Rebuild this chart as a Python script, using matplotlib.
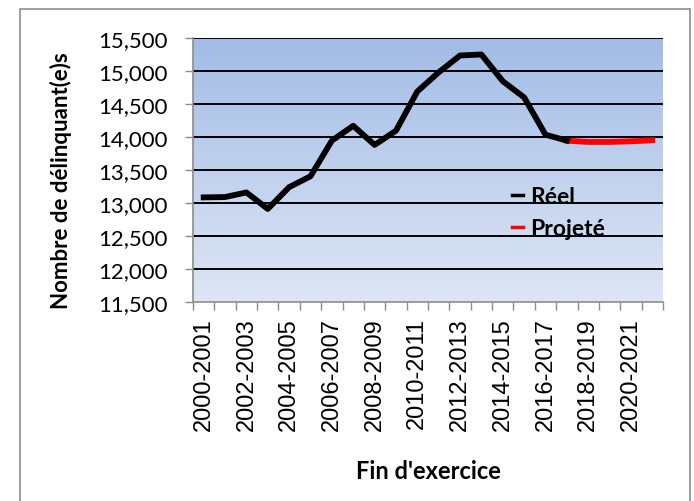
import matplotlib
matplotlib.use("Agg")
import matplotlib.pyplot as plt
import numpy as np
from matplotlib.patches import Rectangle
from matplotlib.ticker import FuncFormatter, FixedLocator, NullFormatter

categories = [f"{y}-{y+1}" for y in range(2000, 2022)]
reel = [13085, 13090, 13160, 12910, 13240, 13405, 13945, 14170, 13880, 14095,
        14690, 14980, 15235, 15250, 14845, 14600, 14035, 13945]
projete = [13945, 13925, 13925, 13935, 13950]
reel_idx = list(range(len(reel)))
proj_idx = list(range(len(reel) - 1, len(reel) - 1 + len(projete)))

yticks = list(range(11500, 15501, 500))

fig = plt.figure(figsize=(6.94, 5.02), dpi=100)
# outer border
fig.patches.append(Rectangle((20/694, -0.01), 670/694, 1 - 10/502 + 0.01, transform=fig.transFigure,
                             fill=False, edgecolor="#8c8c8c", linewidth=1.2))

ax = fig.add_axes([193/694, 1-303/502, 470/694, 264/502])
ax.set_xlim(0, len(categories))
ax.set_ylim(11500, 15500)

# gradient background
top = np.array([163, 188, 230]) / 255
bot = np.array([222, 230, 245]) / 255
t = np.linspace(0, 1, 256)[:, None]
grad = (top[None, :] * (1 - t) + bot[None, :] * t)[:, None, :]
ax.imshow(grad, extent=[0, len(categories), 11500, 15500], aspect="auto", zorder=0, origin="upper")

for v in yticks[1:]:
    ax.axhline(v, color="black", lw=1.4, zorder=1)

xc_r = [i + 0.5 for i in reel_idx]
xc_p = [i + 0.5 for i in proj_idx]
ax.plot(xc_r, reel, color="black", lw=4.2, zorder=3, label="Réel")
ax.plot(xc_p, projete, color="#ff0000", lw=4.2, zorder=2, label="Projeté")

ax.set_yticks(yticks)
ax.yaxis.set_major_formatter(FuncFormatter(lambda v, p: f"{int(v):,}"))
ax.xaxis.set_major_locator(FixedLocator(np.arange(0, len(categories) + 1)))
ax.xaxis.set_major_formatter(NullFormatter())
ax.xaxis.set_minor_locator(FixedLocator([i + 0.5 for i in range(0, len(categories), 2)]))
ax.set_xticklabels([categories[i] for i in range(0, len(categories), 2)], minor=True,
                   rotation=90, fontsize=17, family="Liberation Sans")
ax.tick_params(axis="x", which="major", length=6, color="#8c8c8c", width=1)
ax.tick_params(axis="x", which="minor", length=0, pad=11)
ax.tick_params(axis="y", length=6, color="#8c8c8c", width=1, labelsize=16, pad=12)
for lab in ax.get_yticklabels():
    lab.set_family("Lato")

for s in ["top", "right"]:
    ax.spines[s].set_visible(False)
for s in ["left", "bottom"]:
    ax.spines[s].set_color("#8c8c8c")
    ax.spines[s].set_linewidth(1.2)

ax.set_ylabel("Nombre de délinquant(e)s", fontsize=16, fontweight="bold", family="Lato")
ax.yaxis.set_label_coords((72 - 193) / 470, (303 - 181) / 264)
ax.set_xlabel("Fin d'exercice", fontsize=17, fontweight="bold", family="Lato", labelpad=21)

leg = ax.legend(loc="upper left", bbox_to_anchor=((512-193)/470, (303-187)/264), frameon=False,
                handlelength=0.5, handletextpad=0.3, labelspacing=0.5, borderpad=0, borderaxespad=0,
                prop={"family": "Lato", "weight": "bold", "size": 16.5})
for h in leg.get_lines():
    h.set_linewidth(2.5)

fig.savefig("out.png", dpi=100)
